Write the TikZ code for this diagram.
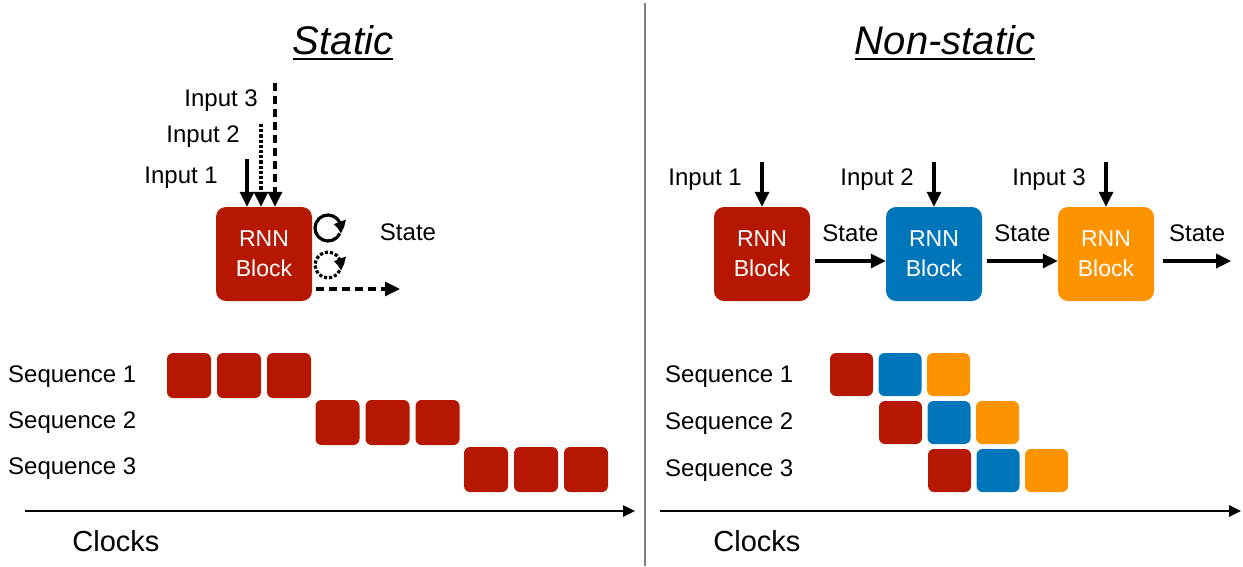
\documentclass[tikz,border=0pt]{standalone}
\usepackage{fontspec}
\setmainfont{Liberation Sans}
\usepackage{xcolor}
\usetikzlibrary{arrows.meta,bending}
\definecolor{rnnred}{RGB}{181,23,0}
\definecolor{rnnblue}{RGB}{0,118,186}
\definecolor{rnnorange}{RGB}{254,147,0}
\newcommand{\titleul}[1]{\setbox0\hbox{#1}\rlap{\rule[-6pt]{\wd0}{2.2pt}}\box0}
\tikzstyle{rnn} = [rounded corners=10pt, minimum width=96pt, minimum height=94pt, text=white, align=center, font=\fontsize{23}{30}\selectfont]
\tikzstyle{cell} = [rounded corners=6pt, minimum width=44pt, minimum height=45pt, inner sep=0pt]
\tikzstyle{lbl} = [font=\fontsize{24}{28}\selectfont, inner sep=0pt]
\tikzstyle{ttl} = [font=\fontsize{40}{44}\selectfont\itshape, inner sep=0pt]
\tikzstyle{flow} = [line width=3.2pt, -{Triangle[length=15pt,width=14pt]}]
\tikzstyle{selfloop} = [line width=3.2pt, -{Triangle[length=12pt,width=12pt,bend]}]
\tikzstyle{clk} = [line width=2.5pt, -{Triangle[length=12pt,width=11pt]}]

\begin{document}
\begin{tikzpicture}[x=1pt, y=-1pt]
\useasboundingbox (0,0) rectangle (1243,566);
\draw[gray, line width=1.5pt] (645,3) -- (645,566);

% static side
\node[ttl] (tstat) at (343,43) {\titleul{Static}};
\node[rnn, fill=rnnred] (blk) at (264,254) {RNN\\Block};
\coordinate (ina) at (247,159);
\coordinate (inb) at (261,124);
\coordinate (inc) at (275,83);
\draw[flow] (ina) -- (ina |- blk.north);
\draw[flow, dotted] (inb) -- (inb |- blk.north);
\draw[flow, dash pattern=on 8pt off 5pt] (inc) -- (inc |- blk.north);
\node[lbl, anchor=east] (la) at (218,178) {Input 1};
\node[lbl, anchor=east] (lb) at (240,137) {Input 2};
\node[lbl, anchor=east] (lc) at (258,101) {Input 3};
\coordinate (loopa) at (328,228);
\coordinate (loopb) at (328,265);
\begin{scope}[y=1pt]
\draw[selfloop] ([shift={(335:13pt)}]loopa) arc[start angle=335, end angle=-25, radius=13pt];
\draw[selfloop, dotted] ([shift={(335:13pt)}]loopb) arc[start angle=335, end angle=-25, radius=13pt];
\end{scope}
\node[lbl] (lst) at (408,232) {State};
\coordinate (outa) at (400,289);
\draw[flow, dash pattern=on 8pt off 5pt] (blk.east |- outa) ++(4,0) -- (outa);

% non-static side
\node[ttl] (tnon) at (945,43) {\titleul{Non-static}};
\foreach \i/\c in {1/rnnred, 2/rnnblue, 3/rnnorange} {
  \node[rnn, fill=\c] (b\i) at (590+172*\i,254) {RNN\\Block};
  \coordinate (top\i) at (590+172*\i,162);
  \draw[flow] (top\i) -- (b\i.north);
  \node[lbl, anchor=east] (in\i) at (570+172*\i,180) {Input \i};
}
\coordinate (out3) at ([xshift=77pt,yshift=-7pt]b3.east);
\draw[flow] ([xshift=5pt,yshift=-7pt]b1.east) -- ([yshift=-7pt]b2.west) node[lbl, midway, above=18pt] {State};
\draw[flow] ([xshift=5pt,yshift=-7pt]b2.east) -- ([yshift=-7pt]b3.west) node[lbl, midway, above=18pt] {State};
\draw[flow] ([xshift=9pt,yshift=-7pt]b3.east) -- (out3) node[lbl, midway, above=18pt] {State};

% sequences
\foreach \r in {1,2,3} {
  \node[lbl, anchor=west] (sl\r) at (8,377+46*\r-46) {Sequence \r};
  \node[lbl, anchor=west] (sr\r) at (665,377+47*\r-47) {Sequence \r};
  \foreach \c in {1,2,3} {
    \node[cell, fill=rnnred] (p\r\c) at (189+148.5*\r-148.5+50*\c-50,375.5+47*\r-47) {};
  }
  \node[cell, fill=rnnred, minimum width=43pt, minimum height=43pt] (q\r1) at (851.5+49*\r-49,374.5+48*\r-48) {};
  \node[cell, fill=rnnblue, minimum width=43pt, minimum height=43pt] (q\r2) at (900+49*\r-49,374.5+48*\r-48) {};
  \node[cell, fill=rnnorange, minimum width=43pt, minimum height=43pt] (q\r3) at (948.5+49*\r-49,374.5+48*\r-48) {};
}

% clocks
\coordinate (ca) at (25,511);
\coordinate (cb) at (635,511);
\coordinate (cc) at (660,511);
\coordinate (cd) at (1241,511);
\draw[clk] (ca) -- (cb);
\draw[clk] (cc) -- (cd);
\node[lbl, font=\fontsize{29}{32}\selectfont] (clka) at (116,541) {Clocks};
\node[lbl, font=\fontsize{29}{32}\selectfont] (clkb) at (757,541) {Clocks};
\end{tikzpicture}
\end{document}
